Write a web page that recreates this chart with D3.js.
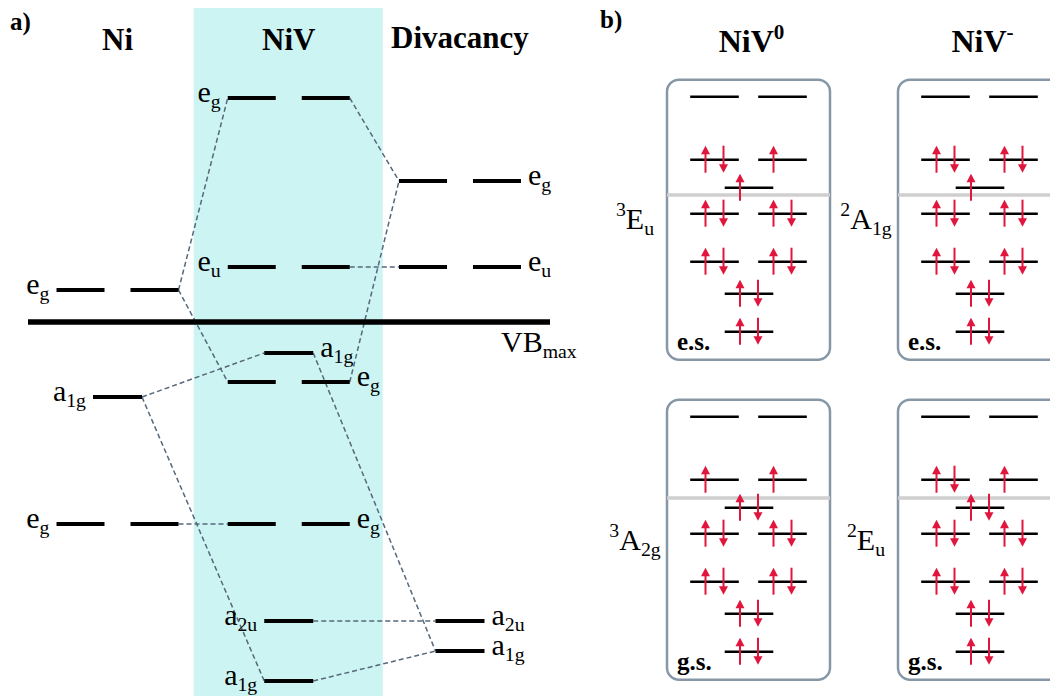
<!DOCTYPE html>
<html>
<head>
<meta charset="utf-8">
<script src="https://cdn.jsdelivr.net/npm/d3@7"></script>
<style>
  html, body { margin: 0; padding: 0; background: #fff; }
  svg { display: block; }
  text { font-family: 'Liberation Serif', 'DejaVu Serif', serif; }
</style>
</head>
<body>
<svg id="chart" width="1050" height="696"></svg>
<script>
// ---------- (a) correlation diagram: Ni, NiV, divacancy levels (energy relative to VBmax) ----------
const columns = ["Ni", "NiV", "Divacancy"];
const levelColumn = ["Ni", "Ni", "Ni",
  "NiV", "NiV", "NiV", "NiV", "NiV", "NiV", "NiV",
  "Divacancy", "Divacancy", "Divacancy", "Divacancy"];
const levelSymbol = ["e", "a", "e", "e", "e", "a", "e", "e", "a", "a", "e", "e", "a", "a"];
const levelSub = ["g", "1g", "g", "g", "u", "1g", "g", "g", "2u", "1g", "g", "u", "2u", "1g"];
const levelEnergy = [0.32, -0.75, -2.02, 2.24, 0.55, -0.31, -0.60, -2.02, -2.99, -3.59, 1.41, 0.55, -2.99, -3.29];
const levelDegeneracy = [2, 1, 2, 2, 2, 1, 2, 2, 1, 1, 2, 2, 1, 1];
const levelLabelSide = ["left", "left", "left", "left", "left", "right", "right", "right", "left", "left",
  "right", "right", "right", "right"];
// correlations: [level in left column, level in right column]
const correlations = [[0, 3], [0, 6], [1, 5], [1, 9], [2, 7], [3, 10], [4, 11], [6, 10], [5, 13], [8, 12], [9, 13]];

// ---------- (b) occupation schemes of NiV0 / NiV- ----------
const chargeStates = ["NiV0", "NiV-"];
const chargeSup = ["0", "-"];
const stateRows = ["e.s.", "g.s."];
const orbitalEnergy = [9.1, 2.8, 0, -2.6, -7.4, -10.6, -14.4];
const orbitalDegeneracy = [2, 2, 1, 2, 2, 1, 1];
const vbmEnergy = [-0.73, 0.97];            // VBmax for e.s. and g.s.
const termMult = [["3", "2"], ["3", "2"]];  // [row][charge state]
const termLetter = [["E", "A"], ["A", "E"]];
const termSub = [["u", "1g"], ["2g", "u"]];
// electrons per orbital, [row][charge state][level][orbital]
const occupation = [
  [
    [[0, 0], [2, 1], [1], [2, 2], [2, 2], [2], [2]],
    [[0, 0], [2, 2], [1], [2, 2], [2, 2], [2], [2]]
  ],
  [
    [[0, 0], [1, 1], [2], [2, 2], [2, 2], [2], [2]],
    [[0, 0], [2, 1], [2], [2, 2], [2, 2], [2], [2]]
  ]
];

const svg = d3.select("#chart");
const FONT = "Liberation Serif";
const dashColor = "#56687a";
const red = "#e0163c";

// text with optional subscript / superscript
function symbolText(g, x, y, parts, anchor, size, weight) {
  const t = g.append("text").attr("x", x).attr("y", y)
    .attr("font-family", FONT)
    .attr("text-anchor", anchor).attr("font-size", size)
    .attr("font-weight", weight || "normal").attr("fill", "#000");
  let shift = 0;
  parts.forEach(p => {
    const target = p.kind === "sub" ? 6 : p.kind === "sup" ? -13 : 0;
    t.append("tspan").attr("dy", target - shift)
      .attr("font-size", p.kind ? size * 0.66 : size).text(p.text);
    shift = target;
  });
  return t;
}

// ===== panel (a) =====
const xA = d3.scalePoint().domain(columns).range([117.5, 460]);
const yA = d3.scaleLinear().domain([0, 1]).range([322, 222]);
const ga = svg.append("g");

// NiV band
ga.append("rect").attr("x", xA("NiV") - 95).attr("y", 8)
  .attr("width", 189).attr("height", 700).attr("fill", "#ccf4f2");

symbolText(ga, 10, 30, [{ text: "a)" }], "start", 25, "bold");
columns.forEach(c => {
  symbolText(ga, xA(c), c === "Divacancy" ? 48 : 50, [{ text: c }], "middle", 31, "bold");
});

// extents of each level
const pairHalf = 61, pairGap = 13, singleHalf = 24.5;
function levelExtent(i) {
  const cx = xA(levelColumn[i]);
  return levelDegeneracy[i] === 2 ? [cx - pairHalf, cx + pairHalf] : [cx - singleHalf, cx + singleHalf];
}

// dashed correlation lines
correlations.forEach(([a, b]) => {
  ga.append("line")
    .attr("x1", levelExtent(a)[1]).attr("y1", yA(levelEnergy[a]))
    .attr("x2", levelExtent(b)[0]).attr("y2", yA(levelEnergy[b]))
    .attr("stroke", dashColor).attr("stroke-width", 1.5)
    .attr("stroke-dasharray", "5,3");
});

// VBmax
ga.append("line").attr("x1", 28).attr("x2", 550)
  .attr("y1", yA(0)).attr("y2", yA(0))
  .attr("stroke", "#000").attr("stroke-width", 5.5);
symbolText(ga, 501, yA(0) + 30, [{ text: "VB" }, { text: "max", kind: "sub" }], "start", 30);

// levels
levelEnergy.forEach((e, i) => {
  const y = yA(e);
  const cx = xA(levelColumn[i]);
  const segs = levelDegeneracy[i] === 2
    ? [[cx - pairHalf, cx - pairGap], [cx + pairGap, cx + pairHalf]]
    : [[cx - singleHalf, cx + singleHalf]];
  segs.forEach(s => {
    ga.append("line").attr("x1", s[0]).attr("x2", s[1]).attr("y1", y).attr("y2", y)
      .attr("stroke", "#000").attr("stroke-width", 4);
  });
  const [x0, x1] = levelExtent(i);
  const left = levelLabelSide[i] === "left";
  symbolText(ga, left ? x0 - 7 : x1 + 7, y + 4,
    [{ text: levelSymbol[i] }, { text: levelSub[i], kind: "sub" }],
    left ? "end" : "start", 30);
});

// ===== panel (b) =====
const xB = d3.scalePoint().domain(chargeStates).range([748.5, 979.5]);
const yB = d3.scaleLinear().domain([0, 1]).range([187.7, 177.7]);
const rowOffset = d3.scalePoint().domain(stateRows).range([0, 320]);
const gb = svg.append("g");

symbolText(gb, 600, 28, [{ text: "b)" }], "start", 25, "bold");
chargeStates.forEach((c, k) => {
  symbolText(gb, xB(c) + 3, 52, [{ text: "NiV" }, { text: chargeSup[k], kind: "sup" }], "middle", 32, "bold");
});

const boxHalf = 81.5, pairOff = 34, segHalf = 24.3;

function arrow(g, x, y, up) {
  const top = y - 14, bot = y + 13, head = 8.5, hw = 4.5;
  g.append("line").attr("x1", x).attr("x2", x)
    .attr("y1", up ? top + head - 1 : top).attr("y2", up ? bot : bot - head + 1)
    .attr("stroke", red).attr("stroke-width", 2);
  const pts = up
    ? [[x, top], [x - hw, top + head], [x + hw, top + head]]
    : [[x, bot], [x - hw, bot - head], [x + hw, bot - head]];
  g.append("path").attr("d", "M" + pts.map(p => p.join(",")).join("L") + "Z").attr("fill", red);
}

stateRows.forEach((row, r) => {
  const gr = gb.append("g").attr("transform", `translate(0,${rowOffset(row)})`);
  const top = yB(d3.max(orbitalEnergy)) - 17;
  const bottom = yB(d3.min(orbitalEnergy)) + 28;
  chargeStates.forEach((c, k) => {
    const cx = xB(c);
    gr.append("rect").attr("x", cx - boxHalf).attr("y", top)
      .attr("width", boxHalf * 2).attr("height", bottom - top).attr("rx", 12)
      .attr("fill", "#fff").attr("stroke", "#8797a5").attr("stroke-width", 2.5);
    // VBmax
    gr.append("line").attr("x1", cx - boxHalf).attr("x2", cx + boxHalf)
      .attr("y1", yB(vbmEnergy[r])).attr("y2", yB(vbmEnergy[r]))
      .attr("stroke", "#cfcfcf").attr("stroke-width", 3.5);
    orbitalEnergy.forEach((e, j) => {
      const y = yB(e);
      const centers = orbitalDegeneracy[j] === 2 ? [cx - pairOff, cx + pairOff] : [cx + 0.5];
      centers.forEach((oc, o) => {
        gr.append("line").attr("x1", oc - segHalf).attr("x2", oc + segHalf)
          .attr("y1", y).attr("y2", y).attr("stroke", "#000").attr("stroke-width", 2.6);
        const n = occupation[r][k][j][o];
        if (n >= 1) arrow(gr, oc - 9, y, true);
        if (n >= 2) arrow(gr, oc + 9, y, false);
      });
    });
    symbolText(gr, cx - boxHalf + 10, bottom - 9.5, [{ text: row }], "start", 25, "bold");
    // term symbol
    symbolText(gr, cx - boxHalf - 32, r === 0 ? 229 : 230,
      [{ text: termMult[r][k], kind: "sup" }, { text: termLetter[r][k] }, { text: termSub[r][k], kind: "sub" }],
      "middle", 30);
  });
});
</script>
</body>
</html>
